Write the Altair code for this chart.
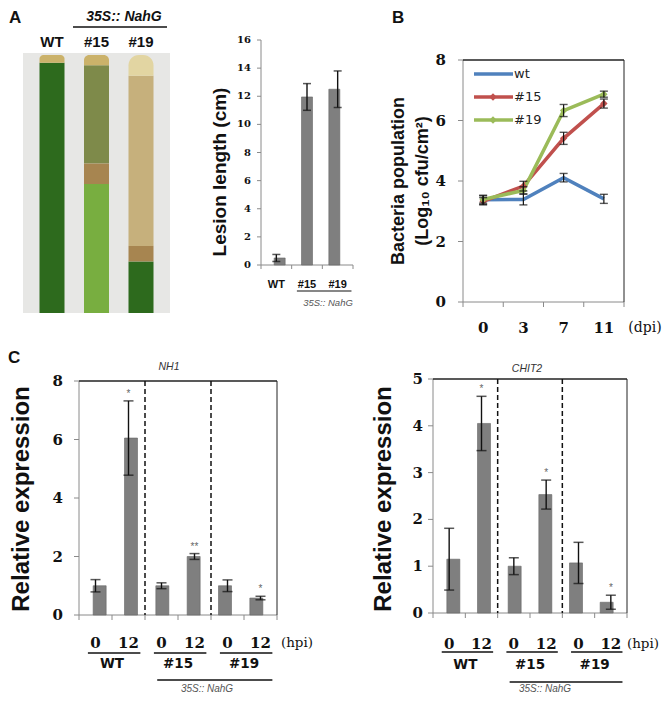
import altair as alt
import pandas as pd

SANS = "Liberation Sans"
DSANS = "DejaVu Sans"
SERIF = "DejaVu Serif"

# ---------------- data ----------------
# Panel A photo (schematic leaves): segments along each leaf, as fraction of leaf length
leaf_names = ["WT", "#15", "#19"]
seg_leaf = ["WT", "WT", "#15", "#15", "#15", "#15", "#19", "#19", "#19", "#19"]
seg_kind = ["healthy", "tip", "young", "edge", "diseased", "tip", "healthy", "edge", "necrotic", "dry"]
seg_start = [0.00, 0.97, 0.00, 0.50, 0.58, 0.96, 0.00, 0.20, 0.26, 0.92]
seg_stop = [0.97, 1.00, 0.50, 0.58, 0.96, 1.00, 0.20, 0.26, 0.92, 1.00]
kind_names = ["healthy", "young", "edge", "diseased", "necrotic", "dry", "tip"]
kind_colors = ["#2d6a1d", "#78ae40", "#a78550", "#7e8a4a", "#c6b07c", "#e2d5a2", "#cbb26a"]

# Panel A lesion length
lesion_lines = ["WT", "#15", "#19"]
lesion_mean = [0.5, 11.95, 12.5]
lesion_err = [0.25, 0.95, 1.3]
lesion_ticks = [0, 2, 4, 6, 8, 10, 12, 14, 16]

# Panel B bacterial population
dpi_labels = ["0", "3", "7", "11"]
series_names = ["wt", "#15", "#19"]
series_colors = ["#4F81BD", "#C0504D", "#9BBB59"]
pop_wt = [3.38, 3.39, 4.11, 3.41]
pop_wt_err = [0.15, 0.18, 0.14, 0.15]
pop_15 = [3.33, 3.83, 5.41, 6.56]
pop_15_err = [0.12, 0.16, 0.20, 0.15]
pop_19 = [3.39, 3.69, 6.33, 6.87]
pop_19_err = [0.12, 0.12, 0.20, 0.10]
pop_ticks = [0, 2, 4, 6, 8]

# Panel C expression
hpi_labels = ["0", "12", "0", "12", "0", "12"]
hpi_groups = ["WT", "WT", "#15", "#15", "#19", "#19"]
group_names = ["WT", "#15", "#19"]
nh1_mean = [1.0, 6.05, 1.0, 2.0, 1.0, 0.58]
nh1_err = [0.21, 1.27, 0.10, 0.10, 0.20, 0.06]
nh1_sig = ["", "*", "", "**", "", "*"]
nh1_ticks = [0, 2, 4, 6, 8]
chit2_mean = [1.15, 4.05, 1.0, 2.53, 1.07, 0.23]
chit2_err = [0.66, 0.58, 0.18, 0.31, 0.44, 0.15]
chit2_sig = ["", "*", "", "*", "", "*"]
chit2_ticks = [0, 1, 2, 3, 4, 5]

# ---------------- helpers ----------------
one = pd.DataFrame({"k": [0]})
DARK = "#111111"
GRAY = "#8a8a8a"


def text(s, x, y, size, font=SANS, weight="bold", style="normal", angle=0, align="center", color=DARK):
    kw = dict(text=s, fontSize=size, font=font, fontWeight=weight, fontStyle=style,
              align=align, baseline="middle", color=color)
    if angle:
        kw["angle"] = angle
    return alt.Chart(one).mark_text(**kw).encode(x=alt.value(x), y=alt.value(y))


def hline(x1, x2, y, color=DARK, width=1.0):
    return alt.Chart(one).mark_rule(color=color, strokeWidth=width).encode(
        x=alt.value(x1), x2=alt.value(x2), y=alt.value(y))


def vline(x, y1, y2, color=DARK, width=1.0):
    return alt.Chart(one).mark_rule(color=color, strokeWidth=width).encode(
        x=alt.value(x), y=alt.value(y1), y2=alt.value(y2))


def span(xs, a, b, y, width=1.3):
    d = pd.DataFrame({"a": [a], "b": [b]})
    return alt.Chart(d).mark_rule(color=DARK, strokeWidth=width).encode(
        x=alt.X("a:Q", scale=xs, axis=None), x2="b:Q", y=alt.value(y))


def frame(x0, x1, y0, y1, top=True):
    # y0 = top pixel, y1 = bottom pixel
    out = [vline(x0, y0, y1, GRAY), hline(x0, x1, y1, GRAY)]
    if top:
        out += [hline(x0, x1, y0, "#222222", 1.3), vline(x1, y0, y1, "#222222", 1.0)]
    return out


def yaxis(ys, ticks, x_axis, label_right, size, tick_len=5):
    d = pd.DataFrame({"v": ticks, "lab": [str(t) for t in ticks]})
    Y = alt.Y("v:Q", scale=ys, axis=None)
    tk = alt.Chart(d).mark_rule(color=GRAY).encode(
        x=alt.value(x_axis - tick_len), x2=alt.value(x_axis), y=Y)
    lb = alt.Chart(d).mark_text(align="right", baseline="middle", font=SERIF, fontWeight="bold",
                                fontSize=size, color=DARK).encode(
        x=alt.value(label_right), y=Y, text="lab:N")
    return [tk, lb]


def xticks(xs, n, y_axis, tick_len=5):
    d = pd.DataFrame({"v": list(range(n + 1))})
    return alt.Chart(d).mark_rule(color=GRAY).encode(
        x=alt.X("v:Q", scale=xs, axis=None), y=alt.value(y_axis), y2=alt.value(y_axis + tick_len))


def bar_layers(mean, err, sig, xs, ys, bar_w, cap_w):
    n = len(mean)
    d = pd.DataFrame({
        "pos": [i + 0.5 for i in range(n)],
        "mean": mean,
        "lo": [m - e for m, e in zip(mean, err)],
        "hi": [m + e for m, e in zip(mean, err)],
        "sig": sig,
    })
    X = alt.X("pos:Q", scale=xs, axis=None)
    bars = alt.Chart(d).mark_bar(width=bar_w, color="#7f7f7f", stroke="#666666", strokeWidth=0.6).encode(
        x=X, y=alt.Y("mean:Q", scale=ys, axis=None))
    eb = alt.Chart(d).mark_rule(color=DARK, strokeWidth=1.4).encode(
        x=X, y=alt.Y("lo:Q", scale=ys, axis=None), y2="hi:Q")
    cap_hi = alt.Chart(d).mark_tick(orient="horizontal", size=cap_w, thickness=1.5, color=DARK).encode(
        x=X, y=alt.Y("hi:Q", scale=ys, axis=None))
    cap_lo = alt.Chart(d).mark_tick(orient="horizontal", size=cap_w, thickness=1.5, color=DARK).encode(
        x=X, y=alt.Y("lo:Q", scale=ys, axis=None))
    star = alt.Chart(d).transform_filter("datum.sig != ''").mark_text(
        fontSize=10, color="#666666", dy=-7, font=SANS).encode(
        x=X, y=alt.Y("hi:Q", scale=ys, axis=None), text="sig:N")
    return [bars, eb, cap_hi, cap_lo, star]


layers = []

# ---------------- Panel A: photo ----------------
photo_x = alt.Scale(type="point", domain=leaf_names, range=[44, 133], padding=0)
photo_y = alt.Scale(domain=[0, 1], range=[305, 47])
kind_scale = alt.Scale(domain=kind_names, range=kind_colors)

layers.append(text("A", 1, 10, 17, align="left"))
layers.append(alt.Chart(one).mark_rect(color="#e7e7e5").encode(
    x=alt.value(15), x2=alt.value(162), y=alt.value(45), y2=alt.value(305)))
seg_df = pd.DataFrame({"leaf": seg_leaf, "kind": seg_kind, "start": seg_start, "stop": seg_stop})
layers.append(alt.Chart(seg_df).transform_filter("datum.stop < 1").mark_bar(width=25).encode(
    x=alt.X("leaf:N", scale=photo_x, axis=None),
    y=alt.Y("start:Q", scale=photo_y, axis=None), y2="stop:Q",
    color=alt.Color("kind:N", scale=kind_scale, legend=None)))
layers.append(alt.Chart(seg_df).transform_filter("datum.stop >= 1").mark_bar(
    width=25, cornerRadiusTopLeft=12, cornerRadiusTopRight=12).encode(
    x=alt.X("leaf:N", scale=photo_x, axis=None),
    y=alt.Y("start:Q", scale=photo_y, axis=None), y2="stop:Q",
    color=alt.Color("kind:N", scale=kind_scale, legend=None)))
layers.append(alt.Chart(pd.DataFrame({"leaf": leaf_names})).mark_text(
    font=SANS, fontWeight="bold", fontSize=15, color=DARK, baseline="middle").encode(
    x=alt.X("leaf:N", scale=photo_x, axis=None), y=alt.value(34), text="leaf:N"))
layers.append(text("35S:: NahG", 116, 9, 14, style="italic"))
layers.append(hline(65, 159, 19, DARK, 1.5))

# ---------------- Panel A: lesion length ----------------
les_x = alt.Scale(domain=[0, 3], range=[253, 345])
les_y = alt.Scale(domain=[0, 16], range=[257, 32])
layers.append(text("Lesion length (cm)", 212, 164, 19, angle=270))
layers += frame(253, 345, 32, 257, top=False)
layers += yaxis(les_y, lesion_ticks, 253, 243, 10, 4)
layers.append(xticks(les_x, 3, 257, 4))
layers += bar_layers(lesion_mean, lesion_err, ["", "", ""], les_x, les_y, 11, 8)
layers.append(alt.Chart(pd.DataFrame({"pos": [i + 0.5 for i in range(3)], "lab": lesion_lines})).mark_text(
    font=SANS, fontWeight="bold", fontSize=11, color=DARK, baseline="middle").encode(
    x=alt.X("pos:Q", scale=les_x, axis=None), y=alt.value(277), text="lab:N"))
layers.append(span(les_x, 1.17, 2.95, 283, 1.2))
layers.append(text("35S:: NahG", 320, 295, 9.5, weight="normal", style="italic", color="#555555"))

# ---------------- Panel B ----------------
pop_x = alt.Scale(domain=[0, 4], range=[455, 616])
pop_y = alt.Scale(domain=[0, 8], range=[294, 52])
layers.append(text("B", 384, 10, 17, align="left"))
layers.append(text("Bacteria population", 391, 173, 18, angle=270))
layers.append(text("(Log\u2081\u2080 cfu/cm\u00b2)", 415, 173, 18, angle=270))
layers += frame(455, 616, 52, 294)
layers += yaxis(pop_y, pop_ticks, 455, 438, 15, 5)
layers.append(xticks(pop_x, 4, 294, 5))
layers.append(alt.Chart(pd.DataFrame({"pos": [i + 0.5 for i in range(4)], "lab": dpi_labels})).mark_text(
    font=SERIF, fontWeight="bold", fontSize=15, color=DARK, baseline="middle").encode(
    x=alt.X("pos:Q", scale=pop_x, axis=None), y=alt.value(320), text="lab:N"))
layers.append(text("(dpi)", 637, 320, 14, font=SERIF, weight="normal"))

rows = []
for name, vals, errs in [("wt", pop_wt, pop_wt_err), ("#15", pop_15, pop_15_err), ("#19", pop_19, pop_19_err)]:
    for i, (v, e) in enumerate(zip(vals, errs)):
        rows.append({"series": name, "pos": i + 0.5, "val": v, "lo": v - e, "hi": v + e})
pop_df = pd.DataFrame(rows)
PX = alt.X("pos:Q", scale=pop_x, axis=None)
ser_scale = alt.Scale(domain=series_names, range=series_colors)
layers.append(alt.Chart(pop_df).mark_line(strokeWidth=3.5).encode(
    x=PX, y=alt.Y("val:Q", scale=pop_y, axis=None),
    color=alt.Color("series:N", scale=ser_scale, legend=None), detail="series:N"))
layers.append(alt.Chart(pop_df).transform_filter("datum.series != 'wt'").mark_point(
    shape="diamond", filled=True, size=55, opacity=1).encode(
    x=PX, y=alt.Y("val:Q", scale=pop_y, axis=None),
    color=alt.Color("series:N", scale=ser_scale, legend=None)))
layers.append(alt.Chart(pop_df).mark_rule(color=DARK, strokeWidth=1.2).encode(
    x=PX, y=alt.Y("lo:Q", scale=pop_y, axis=None), y2="hi:Q"))
layers.append(alt.Chart(pop_df).mark_tick(orient="horizontal", size=8, thickness=1.4, color=DARK).encode(
    x=PX, y=alt.Y("lo:Q", scale=pop_y, axis=None)))
layers.append(alt.Chart(pop_df).mark_tick(orient="horizontal", size=8, thickness=1.4, color=DARK).encode(
    x=PX, y=alt.Y("hi:Q", scale=pop_y, axis=None)))
# in-plot legend
leg_df = pd.DataFrame({"series": series_names})
leg_y = alt.Scale(type="point", domain=series_names, range=[66, 112], padding=0)
LY = alt.Y("series:N", scale=leg_y, axis=None)
layers.append(alt.Chart(leg_df).mark_rule(strokeWidth=3.5).encode(
    x=alt.value(466), x2=alt.value(505), y=LY,
    color=alt.Color("series:N", scale=ser_scale, legend=None)))
layers.append(alt.Chart(leg_df).transform_filter("datum.series != 'wt'").mark_point(
    shape="diamond", filled=True, size=55, opacity=1).encode(
    x=alt.value(485), y=LY, color=alt.Color("series:N", scale=ser_scale, legend=None)))
layers.append(alt.Chart(leg_df).mark_text(align="left", baseline="middle", font=DSANS, fontSize=13,
                                          color="#222222").encode(
    x=alt.value(506), y=LY, text="series:N"))

# ---------------- Panel C ----------------
def expr_panel(mean, err, sig, ticks, ymax, gene, x0, x1, y_top, y_bot, lab_right,
               title_x, gene_xy, lab_y, hpi_x, span_y, grp_y, long_y, nahg_xy):
    xs = alt.Scale(domain=[0, 6], range=[x0, x1])
    ys = alt.Scale(domain=[0, ymax], range=[y_bot, y_top])
    out = []
    out.append(text("Relative expression", title_x, 491, 24, angle=270))
    out += frame(x0, x1, y_top, y_bot)
    out += yaxis(ys, ticks, x0, lab_right, 15, 5)
    out.append(xticks(xs, 6, y_bot, 5))
    out.append(alt.Chart(pd.DataFrame({"v": [2, 4]})).mark_rule(
        color=DARK, strokeWidth=1.5, strokeDash=[5, 3]).encode(
        x=alt.X("v:Q", scale=xs, axis=None), y=alt.value(y_top), y2=alt.value(y_bot)))
    out += bar_layers(mean, err, sig, xs, ys, 13, 10)
    out.append(text(gene, gene_xy[0], gene_xy[1], 10.5, weight="normal", style="italic", color="#333333"))
    out.append(alt.Chart(pd.DataFrame({"pos": [i + 0.5 for i in range(6)], "lab": hpi_labels})).mark_text(
        font=SERIF, fontWeight="bold", fontSize=15, color=DARK, baseline="middle").encode(
        x=alt.X("pos:Q", scale=xs, axis=None), y=alt.value(lab_y), text="lab:N"))
    out.append(text("(hpi)", hpi_x, lab_y, 13.5, font=SERIF, weight="normal"))
    for gi, g in enumerate(group_names):
        out.append(span(xs, 2 * gi + 0.27, 2 * gi + 1.86, span_y))
    out.append(alt.Chart(pd.DataFrame({"pos": [1.0, 3.0, 5.0], "lab": group_names})).mark_text(
        font=DSANS, fontWeight="bold", fontSize=13.5, color=DARK, baseline="middle").encode(
        x=alt.X("pos:Q", scale=xs, axis=None), y=alt.value(grp_y), text="lab:N"))
    out.append(span(xs, 2.37, 5.86, long_y))
    out.append(text("35S:: NahG", nahg_xy[0], nahg_xy[1], 10, weight="normal", style="italic", color="#555555"))
    return out


layers.append(text("C", 0, 350, 17, align="left"))
layers += expr_panel(nh1_mean, nh1_err, nh1_sig, nh1_ticks, 8, "NH1", 71, 269, 373, 607, 55,
                     14, (161, 359), 634.5, 289, 645, 656, 672, (199, 681))
layers += expr_panel(chit2_mean, chit2_err, chit2_sig, chit2_ticks, 5, "CHIT2", 425, 619, 371, 605, 415,
                     376, (519, 360.5), 636, 635, 644, 657, 674, (537, 681))

chart = alt.layer(*layers).resolve_scale(
    x="independent", y="independent", color="independent"
).properties(
    width=655, height=685, padding=0, autosize=alt.AutoSizeParams(type="none")
).configure_view(strokeWidth=0)

chart.save("out.html", embed_options={"renderer": "svg", "actions": False})
